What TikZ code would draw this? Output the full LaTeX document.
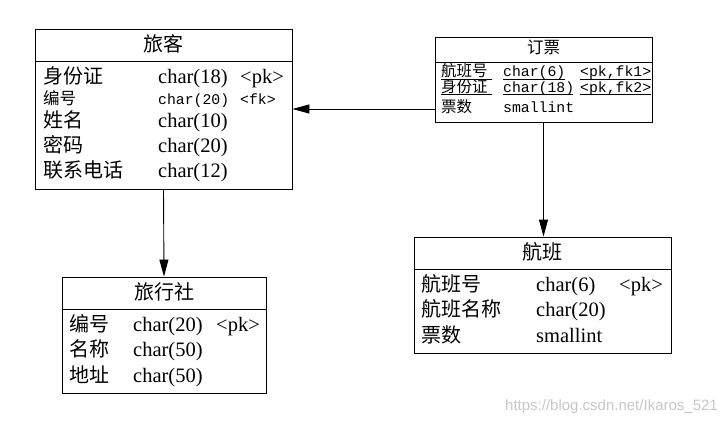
\documentclass[tikz,border=0pt]{standalone}
\usepackage{fontspec}
\setmainfont{Liberation Serif}
\setmonofont{Liberation Mono}
\newfontfamily\cjk{Noto Sans CJK SC}
\newfontfamily\wmfont{Liberation Sans}
\usetikzlibrary{arrows.meta}

\begin{document}
\begin{tikzpicture}[x=1pt, y=-1pt,
    tbl/.style={draw, line width=0.9pt, inner sep=0pt},
    hdr/.style={font=\cjk\fontsize{20}{24}\selectfont, inner sep=0pt},
    hdrs/.style={font=\cjk\fontsize{16.5}{19}\selectfont, inner sep=0pt},
    zh/.style={anchor=base west, inner sep=0pt, font=\cjk\fontsize{20}{24}\selectfont},
    lat/.style={anchor=base west, inner sep=0pt, font=\fontsize{20.5}{24}\selectfont},
    zhs/.style={anchor=base west, inner sep=0pt, font=\cjk\fontsize{16.5}{18}\selectfont},
    zht/.style={anchor=base west, inner sep=0pt, font=\cjk\fontsize{15.5}{17}\selectfont},
    mono/.style={anchor=base west, inner sep=0pt, font=\ttfamily\fontsize{14.8}{17}\selectfont},
    conn/.style={line width=0.9pt, -{Triangle[length=17pt, width=9pt]}}]
    \useasboundingbox (0,0) rectangle (723,425);

    % tables
    \node[tbl, minimum width=257pt, minimum height=160pt] (lk) at (163.5,109) {};
    \node[tbl, minimum width=217pt, minimum height=85pt] (dp) at (543.5,79.5) {};
    \node[tbl, minimum width=257pt, minimum height=116pt] (hb) at (542.5,295) {};
    \node[tbl, minimum width=204pt, minimum height=116pt] (lxs) at (164,335) {};

    \draw[line width=0.9pt] (lk.west |- 0,61) -- (lk.east |- 0,61);
    \draw[line width=0.9pt] (dp.west |- 0,62) -- (dp.east |- 0,62);
    \draw[line width=0.9pt] (hb.west |- 0,269) -- (hb.east |- 0,269);
    \draw[line width=0.9pt] (lxs.west |- 0,309) -- (lxs.east |- 0,309);

    \node[hdr] (lkT) at (163.5,44) {旅客};
    \node[hdrs] (dpT) at (543.5,47) {订票};
    \node[hdr] (hbT) at (542.5,252) {航班};
    \node[hdr] (lxsT) at (164,292) {旅行社};

    % 旅客
    \node[zh] (lk1a) at (43,83.5) {身份证};
    \node[lat] (lk1b) at (158,83.5) {char(18)};
    \node[lat] (lk1c) at (240,83.5) {<pk>};
    \node[zhs] (lk2a) at (43,105) {编号};
    \node[mono] (lk2b) at (158,105) {char(20)};
    \node[mono] (lk2c) at (240,105) {<fk>};
    \node[zh] (lk3a) at (43,127.5) {姓名};
    \node[lat] (lk3b) at (158,127.5) {char(10)};
    \node[zh] (lk4a) at (43,152.5) {密码};
    \node[lat] (lk4b) at (158,152.5) {char(20)};
    \node[zh] (lk5a) at (43,178) {联系电话};
    \node[lat] (lk5b) at (158,178) {char(12)};

    % 订票
    \node[zht] (dp1a) at (441,77) {航班号};
    \node[mono] (dp1b) at (503,77) {char(6)};
    \node[mono] (dp1c) at (580,77) {<pk,fk1>};
    \node[zht] (dp2a) at (441,92.5) {身份证};
    \node[mono] (dp2b) at (503,92.5) {char(18)};
    \node[mono] (dp2c) at (580,92.5) {<pk,fk2>};
    \node[zht] (dp3a) at (441,113) {票数};
    \node[mono] (dp3b) at (503,113) {smallint};
    \draw[line width=0.7pt] (441,79) -- (492,79) (503,79) -- (565,79) (580,79) -- (651,79);
    \draw[line width=0.7pt] (441,94) -- (492,94) (503,94) -- (573,94) (580,94) -- (651,94);

    % 航班
    \node[zh] (hb1a) at (421,291.5) {航班号};
    \node[lat] (hb1b) at (536,291.5) {char(6)};
    \node[lat] (hb1c) at (619,291.5) {<pk>};
    \node[zh] (hb2a) at (421,316.5) {航班名称};
    \node[lat] (hb2b) at (536,316.5) {char(20)};
    \node[zh] (hb3a) at (421,342.5) {票数};
    \node[lat] (hb3b) at (536,342.5) {smallint};

    % 旅行社
    \node[zh] (lxs1a) at (69,331.5) {编号};
    \node[lat] (lxs1b) at (133,331.5) {char(20)};
    \node[lat] (lxs1c) at (216,331.5) {<pk>};
    \node[zh] (lxs2a) at (69,356.5) {名称};
    \node[lat] (lxs2b) at (133,356.5) {char(50)};
    \node[zh] (lxs3a) at (69,382.5) {地址};
    \node[lat] (lxs3b) at (133,382.5) {char(50)};

    % references
    \coordinate (dpout) at ([yshift=-29.5pt]dp.west);
    \draw[conn] (lk.south) -- (lxs.north);
    \draw[conn] (dpout) -- (dpout -| lk.east);
    \draw[conn] (dp.south) -- (dp.south |- hb.north);

    \node[anchor=east, inner sep=0pt, text=black!22, font=\wmfont\fontsize{15}{18}\selectfont] (wm) at (718,407) {https://blog.csdn.net/Ikaros\_521};
\end{tikzpicture}
\end{document}
